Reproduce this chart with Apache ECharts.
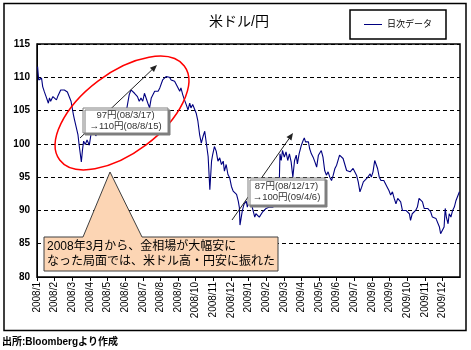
<!DOCTYPE html>
<html>
<head>
<meta charset="utf-8">
<script src="https://cdn.jsdelivr.net/npm/echarts@6/dist/echarts.min.js"></script>
<style>html,body{margin:0;padding:0;background:#fff}#c{width:471px;height:350px}</style>
</head>
<body>
<div id="c"></div>
<script>
const title = '米ドル/円';
const seriesName = '日次データ';
const footnote = '出所:Bloombergより作成';
const yTicks = [80, 85, 90, 95, 100, 105, 110, 115];
const monthLabels = ['2008/1','2008/2','2008/3','2008/4','2008/5','2008/6','2008/7','2008/8','2008/9','2008/10','2008/11','2008/12',
  '2009/1','2009/2','2009/3','2009/4','2009/5','2009/6','2009/7','2009/8','2009/9','2009/10','2009/11','2009/12'];
const dates = [
 '2008-01-02','2008-01-04','2008-01-07','2008-01-09','2008-01-11','2008-01-14','2008-01-17','2008-01-21','2008-01-23','2008-01-25','2008-01-29',
 '2008-02-01','2008-02-04','2008-02-06','2008-02-08','2008-02-11','2008-02-14','2008-02-17','2008-02-20','2008-02-22','2008-02-25','2008-02-28',
 '2008-03-03','2008-03-05','2008-03-07','2008-03-11','2008-03-13','2008-03-17','2008-03-19','2008-03-21','2008-03-24','2008-03-27','2008-03-31',
 '2008-04-03','2008-04-08','2008-04-11','2008-04-16','2008-04-21','2008-04-25','2008-04-30',
 '2008-05-05','2008-05-09','2008-05-14','2008-05-19','2008-05-23','2008-05-28',
 '2008-06-02','2008-06-05','2008-06-08','2008-06-11','2008-06-14','2008-06-17','2008-06-19','2008-06-22','2008-06-25','2008-06-28',
 '2008-07-01','2008-07-04','2008-07-07','2008-07-10','2008-07-13','2008-07-16','2008-07-19','2008-07-22','2008-07-25','2008-07-28','2008-07-31',
 '2008-08-02','2008-08-05','2008-08-08','2008-08-11','2008-08-14','2008-08-17','2008-08-20','2008-08-23','2008-08-26','2008-08-29',
 '2008-09-01','2008-09-04','2008-09-06','2008-09-09','2008-09-12','2008-09-15','2008-09-18','2008-09-21','2008-09-23','2008-09-26','2008-09-29',
 '2008-10-02','2008-10-05','2008-10-08','2008-10-11','2008-10-14','2008-10-17','2008-10-20','2008-10-23','2008-10-26','2008-10-29','2008-10-31',
 '2008-11-03','2008-11-06','2008-11-09','2008-11-12','2008-11-15','2008-11-18','2008-11-20','2008-11-23','2008-11-26','2008-11-29',
 '2008-12-02','2008-12-05','2008-12-08','2008-12-11','2008-12-14','2008-12-16','2008-12-17','2008-12-21','2008-12-24','2008-12-28','2008-12-30',
 '2009-01-03','2009-01-09','2009-01-12','2009-01-14','2009-01-17','2009-01-20','2009-01-23','2009-01-26','2009-01-29',
 '2009-02-01','2009-02-04','2009-02-06','2009-02-09','2009-02-12','2009-02-17','2009-02-20','2009-02-22','2009-02-23','2009-02-25','2009-02-27',
 '2009-03-02','2009-03-05','2009-03-08','2009-03-11','2009-03-14','2009-03-17','2009-03-20','2009-03-23','2009-03-25','2009-03-28',
 '2009-04-01','2009-04-04','2009-04-06','2009-04-08','2009-04-11','2009-04-13','2009-04-15','2009-04-18','2009-04-21','2009-04-24','2009-04-27','2009-04-30',
 '2009-05-02','2009-05-05','2009-05-08','2009-05-11','2009-05-14','2009-05-17','2009-05-20','2009-05-23','2009-05-26','2009-05-29',
 '2009-06-01','2009-06-04','2009-06-06','2009-06-09','2009-06-12','2009-06-15','2009-06-18','2009-06-21','2009-06-24','2009-06-26','2009-06-29',
 '2009-07-02','2009-07-05','2009-07-08','2009-07-11','2009-07-14','2009-07-17','2009-07-20','2009-07-23','2009-07-26','2009-07-29','2009-07-31',
 '2009-08-03','2009-08-06','2009-08-08','2009-08-11','2009-08-14','2009-08-17','2009-08-19','2009-08-22','2009-08-25','2009-08-28','2009-08-31',
 '2009-09-03','2009-09-06','2009-09-09','2009-09-12','2009-09-15','2009-09-17','2009-09-20','2009-09-23','2009-09-26','2009-09-29',
 '2009-10-02','2009-10-05','2009-10-07','2009-10-10','2009-10-13','2009-10-16','2009-10-19','2009-10-22','2009-10-25','2009-10-28','2009-10-31',
 '2009-11-03','2009-11-06','2009-11-09','2009-11-11','2009-11-14','2009-11-17','2009-11-20','2009-11-23','2009-11-26','2009-11-28',
 '2009-12-01','2009-12-04','2009-12-06','2009-12-08','2009-12-11','2009-12-13','2009-12-16','2009-12-19','2009-12-22','2009-12-25','2009-12-28','2009-12-31'
];
const rates = [
 111.6,109.6,109.3,109.9,108.6,107.8,107.1,106.1,106.9,106.4,107.1,
 106.9,106.6,107.1,107.4,108.1,108.4,108.1,108.4,107.8,107.6,106.4,
 104.4,103.6,103.4,101.4,99.9,97.3,99.1,100.4,99.9,100.6,99.8,
 101.5,102.2,101.2,102.0,103.2,104.2,104.0,
 104.8,103.0,104.6,103.8,103.4,104.8,
 104.4,105.9,107.4,108.1,107.9,107.6,107.9,107.1,106.4,106.9,
 106.4,107.6,107.4,106.1,105.4,106.9,107.1,107.9,108.1,107.9,108.4,
 108.6,109.6,109.8,110.1,110.4,110.0,109.6,109.9,109.4,108.9,
 109.1,107.9,108.4,107.4,106.6,105.9,105.1,106.1,105.4,105.9,105.6,
 104.6,103.4,101.4,100.1,101.1,101.9,101.6,98.1,93.1,97.4,98.4,
 99.6,98.9,97.4,97.9,96.9,97.4,95.9,96.9,95.4,94.9,
 93.6,92.9,93.1,92.4,91.4,90.4,87.8,89.9,90.9,91.4,90.5,
 92.0,90.0,89.0,89.5,89.8,89.0,88.8,89.8,89.5,
 90.3,90.0,90.5,90.3,90.5,92.0,93.8,94.5,98.5,97.5,99.0,
 98.0,98.8,97.5,98.5,97.3,95.0,97.5,98.3,97.0,98.5,
 99.8,100.5,100.9,100.3,100.0,100.3,99.3,98.5,98.0,97.3,96.5,98.3,
 98.5,99.0,98.0,96.0,95.3,95.8,95.0,94.5,95.3,96.3,
 96.8,97.0,98.3,98.5,97.8,97.5,96.0,96.3,95.8,95.5,96.3,
 96.5,95.3,94.3,92.8,93.5,94.3,94.3,94.8,95.0,95.5,95.0,
 95.8,97.5,97.3,96.3,95.0,94.5,94.3,94.5,94.3,93.5,93.0,
 92.3,92.8,91.8,91.0,91.8,91.5,91.3,90.0,89.8,90.0,
 89.8,89.5,88.5,89.5,89.8,90.0,90.5,91.8,92.0,91.3,90.3,
 90.0,90.3,90.0,89.8,89.0,89.3,88.8,88.8,87.5,86.5,
 86.5,87.5,90.3,89.0,88.0,89.5,89.0,90.0,90.5,91.5,91.8,92.8
];
const note1 = ['97円(08/3/17)', '→110円(08/8/15)'];
const note2 = ['87円(08/12/17)', '→100円(09/4/6)'];
const callout = ['2008年3月から、金相場が大幅安に', 'なった局面では、米ドル高・円安に振れた'];

function monthPos(s) {
  const [y, m, d] = s.split('-').map(Number);
  const dim = new Date(y, m, 0).getDate();
  return (y - 2008) * 12 + (m - 1) + (d - 1) / dim;
}
const seriesData = dates.map((d, i) => [monthPos(d), rates[i]]);

const FONT = "'Liberation Sans', 'Noto Sans CJK JP', sans-serif";
const chart = echarts.init(document.getElementById('c'), null, {renderer: 'canvas'});

function arrow(x1, y1, x2, y2) {
  const dx = x2 - x1, dy = y2 - y1, L = Math.hypot(dx, dy);
  const ux = dx / L, uy = dy / L, px = -uy, py = ux;
  const bx = x2 - 7 * ux, by = y2 - 7 * uy;
  return [
    {type: 'line', shape: {x1: x1, y1: y1, x2: bx, y2: by}, style: {stroke: '#222', lineWidth: 1}, z: 10},
    {type: 'polygon', shape: {points: [[x2, y2], [bx + 3 * px, by + 3 * py], [bx - 3 * px, by - 3 * py]]}, style: {fill: '#222'}, z: 10}
  ];
}
function noteBox(x, y, w, h, lines) {
  return [
    {type: 'rect', shape: {x: x, y: y, width: w, height: h}, style: {fill: '#fff', stroke: '#808080', lineWidth: 1, shadowColor: '#7f7f7f', shadowOffsetX: 2, shadowOffsetY: 2, shadowBlur: 0}, z: 11},
    {type: 'text', x: x + w / 2, y: y + h / 2 - 5.5, style: {text: lines[0], fill: '#333', font: '9.5px ' + FONT, textAlign: 'center', textVerticalAlign: 'middle'}, z: 12},
    {type: 'text', x: x + w / 2, y: y + h / 2 + 5.5, style: {text: lines[1], fill: '#333', font: '9.5px ' + FONT, textAlign: 'center', textVerticalAlign: 'middle'}, z: 12}
  ];
}

const graphics = [
  {type: 'rect', shape: {x: 4, y: 3.5, width: 462, height: 327}, style: {fill: 'none', stroke: '#000', lineWidth: 1.5}, z: 20},
  {type: 'text', x: 239, y: 22, style: {text: title, fill: '#000', font: '14px ' + FONT, textAlign: 'center', textVerticalAlign: 'middle'}, z: 20},
  {type: 'text', x: 2, y: 342, style: {text: footnote, fill: '#000', font: 'bold 10px ' + FONT, textAlign: 'left', textVerticalAlign: 'middle'}, z: 20},
  {type: 'ellipse', shape: {cx: 122, cy: 113, rx: 78, ry: 40}, x: 0, y: 0, originX: 122, originY: 113, rotation: 37 * Math.PI / 180,
    style: {fill: 'none', stroke: '#ff0000', lineWidth: 1.5}, z: 9},
  ...arrow(80, 138, 157, 65),
  ...noteBox(83, 108, 85, 25, note1),
  ...arrow(232, 220, 293, 133),
  ...noteBox(248, 178, 77, 27, note2),
  {type: 'polygon', shape: {points: [[44, 237], [83, 237], [110, 172], [142, 237], [278, 237], [278, 271], [44, 271]]},
    style: {fill: '#FCD5B4', stroke: '#404040', lineWidth: 1}, z: 13},
  {type: 'text', x: 47, y: 246.5, style: {text: callout[0], fill: '#000', font: '12px ' + FONT, textAlign: 'left', textVerticalAlign: 'middle'}, z: 14},
  {type: 'text', x: 47, y: 262, style: {text: callout[1], fill: '#000', font: '12px ' + FONT, textAlign: 'left', textVerticalAlign: 'middle'}, z: 14}
];

chart.setOption({
  animation: false,
  backgroundColor: '#fff',
  textStyle: {fontFamily: FONT},
  grid: {left: 37, top: 44, right: 11, bottom: 73, show: true, borderColor: '#000', borderWidth: 1.5, backgroundColor: 'transparent'},
  legend: {
    left: 350, top: 10, padding: [10, 14, 10, 14], borderColor: '#000', borderWidth: 1.5,
    itemWidth: 18, itemHeight: 12,
    textStyle: {fontSize: 9, color: '#000', fontFamily: FONT},
    data: [{name: seriesName, icon: 'path://M0,5.5H18V6.5H0Z', itemStyle: {color: '#000080'}}]
  },
  xAxis: {
    type: 'value', min: 0, max: 24, interval: 1,
    axisLine: {show: true, lineStyle: {color: '#000', width: 1}},
    axisTick: {show: true, length: 4, lineStyle: {color: '#000'}},
    axisLabel: {rotate: 90, fontSize: 10, color: '#000', margin: 5, showMaxLabel: false,
      formatter: v => (v >= 0 && v < monthLabels.length) ? monthLabels[v] : ''},
    splitLine: {show: false}
  },
  yAxis: {
    type: 'value', min: yTicks[0], max: yTicks[yTicks.length - 1], interval: 5,
    axisLine: {show: true, lineStyle: {color: '#000'}},
    axisTick: {show: false},
    axisLabel: {fontSize: 10, color: '#000', margin: 7, fontWeight: 'bold'},
    splitLine: {show: true, lineStyle: {color: '#000', type: [4, 3], width: 1}}
  },
  series: [{
    name: seriesName, type: 'line', data: seriesData, symbol: 'none',
    lineStyle: {color: '#000080', width: 1.1}, itemStyle: {color: '#000080'}, z: 5
  }],
  graphic: graphics
});
</script>
</body>
</html>
